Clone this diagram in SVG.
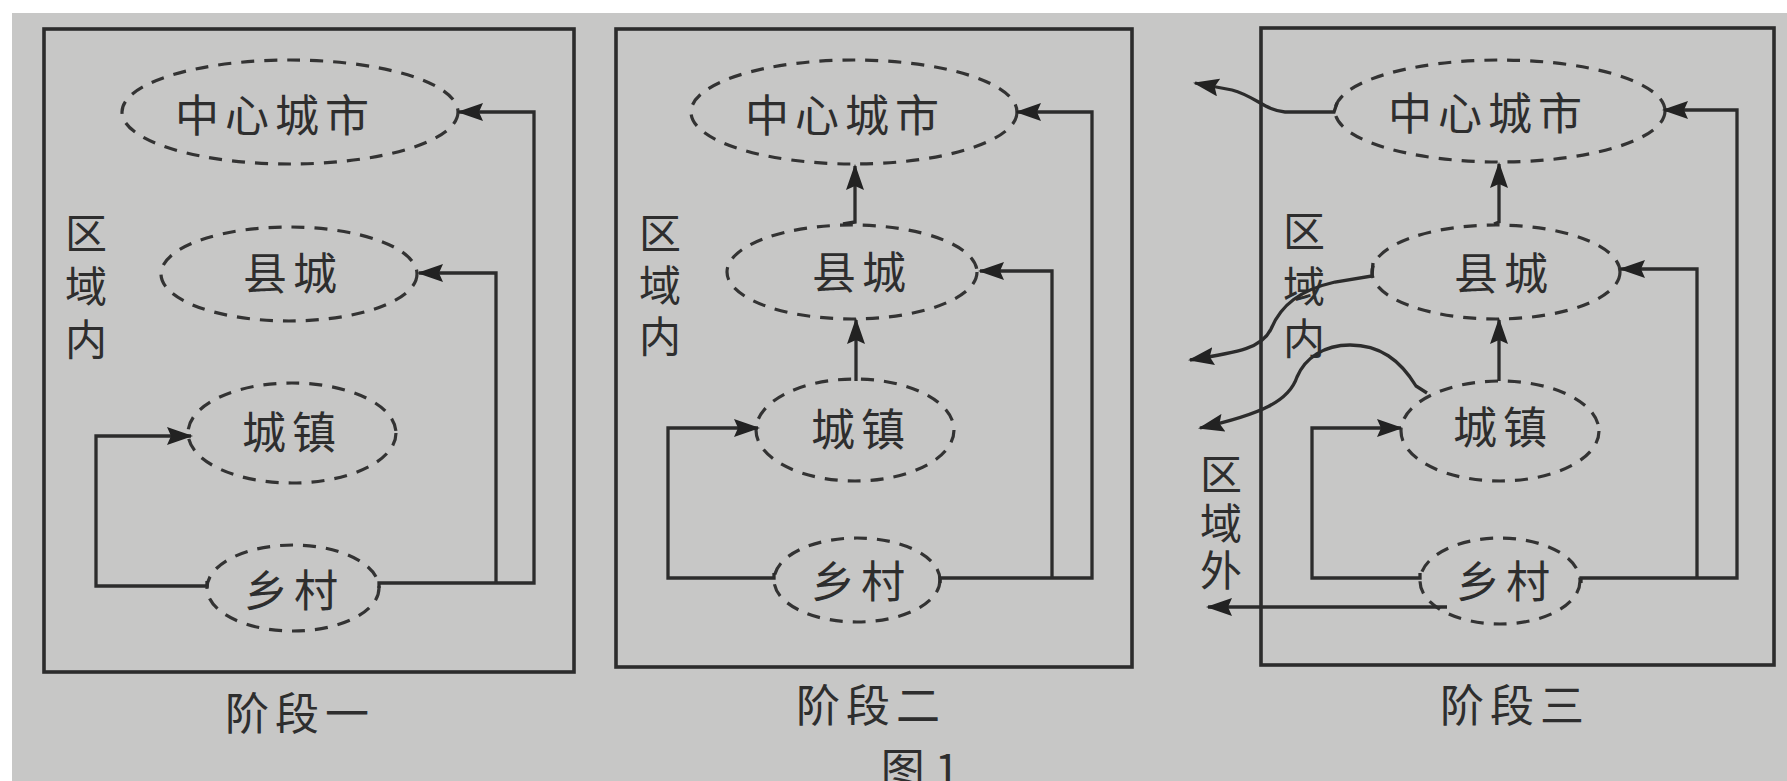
<svg xmlns="http://www.w3.org/2000/svg" width="1787" height="781" viewBox="0 0 1787 781">
<defs>
<style>
.box{fill:none;stroke:#2c2c2c;stroke-width:3.6}
.node{fill:none;stroke:#333;stroke-width:3.2;stroke-dasharray:13 10}
.ln{fill:none;stroke:#2c2c2c;stroke-width:3.3;stroke-linejoin:miter}
.arr{marker-end:url(#ah)}
.t{font-family:"Noto Sans CJK SC","Noto Sans",sans-serif;font-size:44px;fill:#2e2e2e;dominant-baseline:central;text-anchor:middle}
.v{font-size:42px}
.sp{letter-spacing:6px}
</style>
<marker id="ah" markerUnits="userSpaceOnUse" markerWidth="26" markerHeight="18" refX="24" refY="9" orient="auto">
<path d="M0,0 L26,9 L0,18 L4,9 z" fill="#222"/>
</marker>
</defs>
<rect x="0" y="0" width="1787" height="781" fill="#ffffff"/>
<rect x="12" y="13" width="1775" height="768" fill="#c7c7c6"/>

<!-- Panel 1 -->
<g id="panel1">
<rect class="box" x="44" y="29" width="530" height="643"/>
<text class="t v" x="86" y="230"><tspan x="86" y="230">区</tspan><tspan x="86" y="283">域</tspan><tspan x="86" y="336">内</tspan></text>
<text class="t sp" x="300" y="711">阶段一</text>
</g>
<g id="p1-center"><ellipse class="node" cx="290" cy="112" rx="168" ry="52"/><text class="t sp" x="275" y="113">中心城市</text></g>
<g id="p1-county"><ellipse class="node" cx="289" cy="274" rx="128" ry="47"/><text class="t sp" x="293" y="271">县城</text></g>
<g id="p1-town"><ellipse class="node" cx="292" cy="433" rx="104" ry="50"/><text class="t sp" x="292" y="430">城镇</text></g>
<g id="p1-village"><ellipse class="node" cx="293" cy="588" rx="86" ry="43"/><text class="t sp" x="294" y="588">乡村</text></g>

<!-- Panel 2 -->
<g id="panel2">
<rect class="box" x="616" y="29" width="516" height="638"/>
<text class="t v" x="660" y="230"><tspan x="660" y="230">区</tspan><tspan x="660" y="282">域</tspan><tspan x="660" y="333">内</tspan></text>
<text class="t sp" x="871" y="703">阶段二</text>
</g>
<g id="p2-center"><ellipse class="node" cx="854" cy="112" rx="163" ry="52"/><text class="t sp" x="845" y="113">中心城市</text></g>
<g id="p2-county"><ellipse class="node" cx="852" cy="272" rx="125" ry="47"/><text class="t sp" x="862" y="270">县城</text></g>
<g id="p2-town"><ellipse class="node" cx="855" cy="430" rx="99" ry="51"/><text class="t sp" x="861" y="427">城镇</text></g>
<g id="p2-village"><ellipse class="node" cx="857" cy="580" rx="83" ry="42"/><text class="t sp" x="861" y="579">乡村</text></g>

<!-- Panel 3 -->
<g id="panel3">
<rect class="box" x="1261" y="28" width="513" height="637"/>
<text class="t v" x="1304" y="228"><tspan x="1304" y="228">区</tspan><tspan x="1304" y="283">域</tspan><tspan x="1304" y="335">内</tspan></text>
<text class="t v" x="1221" y="471"><tspan x="1221" y="471">区</tspan><tspan x="1221" y="520">域</tspan><tspan x="1221" y="567">外</tspan></text>
<text class="t sp" x="1515" y="703">阶段三</text>
</g>
<g id="p3-center"><ellipse class="node" cx="1500" cy="111" rx="165" ry="51"/><text class="t sp" x="1488" y="111">中心城市</text></g>
<g id="p3-county"><ellipse class="node" cx="1496" cy="272" rx="124" ry="47"/><text class="t sp" x="1504" y="271">县城</text></g>
<g id="p3-town"><ellipse class="node" cx="1500" cy="431" rx="99" ry="50"/><text class="t sp" x="1503" y="425">城镇</text></g>
<g id="p3-village"><ellipse class="node" cx="1500" cy="581" rx="80" ry="43"/><text class="t sp" x="1506" y="579">乡村</text></g>

<g id="caption"><text class="t" x="920" y="767">图 1</text></g>

<g id="connectors">
<!-- panel 1 -->
<path class="ln arr" d="M207,581 L207,586 L96,586 L96,436 L191,436"/>
<path class="ln arr" d="M379,588 L379,583 L534,583 L534,112 L459,112"/>
<path class="ln arr" d="M496,583 L496,273 L419,273"/>
<!-- panel 2 -->
<path class="ln arr" d="M774,573 L774,578 L668,578 L668,428 L758,428"/>
<path class="ln arr" d="M940,583 L940,578 L1092,578 L1092,112 L1017,112"/>
<path class="ln arr" d="M1052,578 L1052,271 L980,271"/>
<path class="ln arr" d="M856,381 L856,320"/>
<path class="ln arr" d="M843,224 L855,222 L855,166"/>
<!-- panel 3 -->
<path class="ln arr" d="M1420,573 L1420,578 L1312,578 L1312,428 L1401,428"/>
<path class="ln arr" d="M1581,583 L1581,578 L1737,578 L1737,110 L1664,110"/>
<path class="ln arr" d="M1697,578 L1697,269 L1621,269"/>
<path class="ln arr" d="M1499,381 L1499,320"/>
<path class="ln arr" d="M1494,224 L1499,222 L1499,164"/>
<path class="ln arr" d="M1337,103 L1334,112 L1285,112 C1266,111 1255,96 1232,90 L1195,83"/>
<path class="ln arr" d="M1373,263 L1372,276 L1335,282 C1300,290 1281,305 1271,329 C1262,348 1240,352 1190,360"/>
<path class="ln arr" d="M1427,393 L1416,386 C1400,360 1380,345 1350,345 C1324,345 1305,358 1297,377 C1289,401 1262,414 1200,428"/>
<path class="ln arr" d="M1447,607 L1208,607"/>
</g>
</svg>
